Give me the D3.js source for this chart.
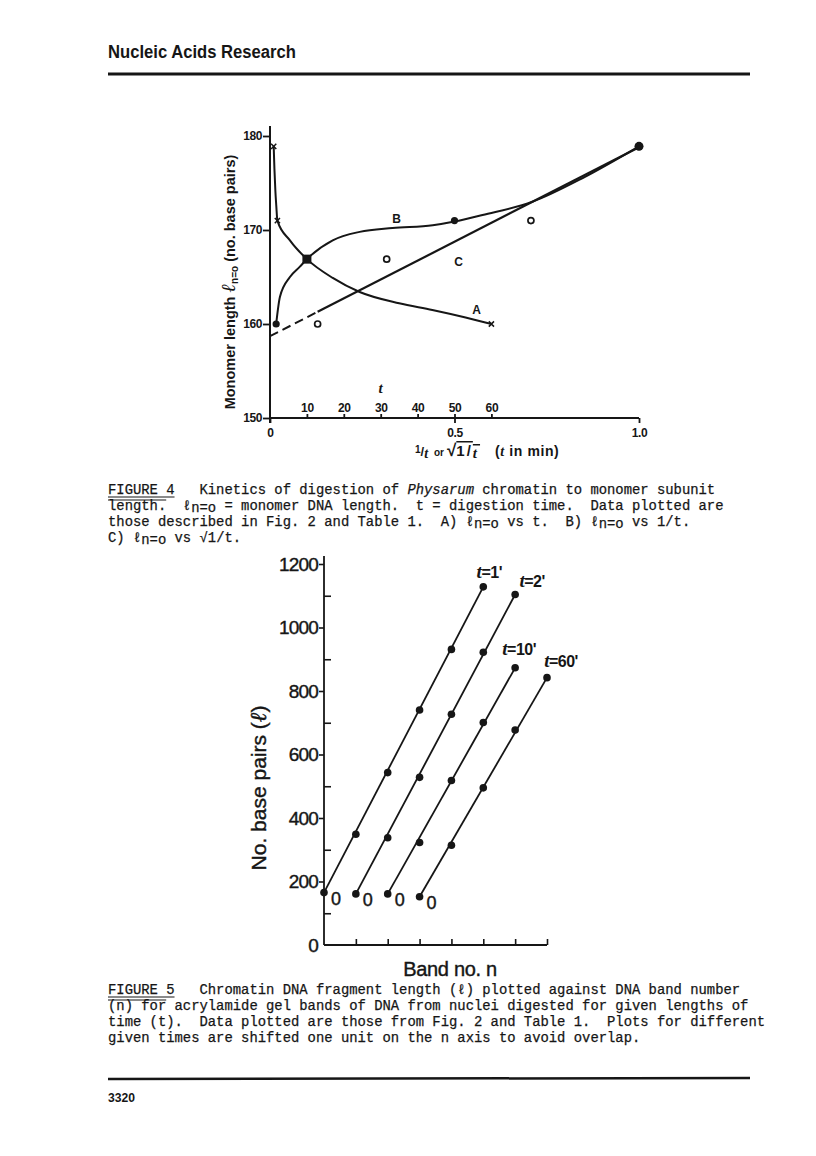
<!DOCTYPE html>
<html>
<head>
<meta charset="utf-8">
<script src="https://cdn.jsdelivr.net/npm/d3@7"></script>
<style>
  body { margin: 0; background: #fff; }
  text { fill: #161616; }
</style>
</head>
<body>
<svg id="page"></svg>
<script>
// ---- Figure 4 data: monomer length l(n=0) against digestion time t (min)
var digestTimes = [1, 2, 10, 60];
var monomerLen = [178.9, 171.0, 166.9, 160.0];

// curve A (l vs t) and curve B (l vs 1/t), as hand drawn in the figure
var traceA_t = [1, 1.2, 1.45, 1.7, 2, 5.4, 10, 17, 24.3, 35, 44, 53, 60];
var traceA_len = [178.9, 176.5, 174.2, 172.6, 171.0, 168.9, 166.9, 164.9, 163.4, 162.2, 161.5, 160.7, 160.0];
var traceB_x = [0.0167, 0.027, 0.054, 0.081, 0.1, 0.17, 0.243, 0.332, 0.441, 0.5, 0.576, 0.711, 0.846, 1.0];
var traceB_len = [160.0, 162.9, 165.0, 166.1, 166.9, 168.9, 169.8, 170.2, 170.5, 170.9, 171.6, 173.0, 175.5, 178.9];

// line C (l vs sqrt(1/t)): value at x = 0 and at x = 1
var fitC_len = [158.7, 178.8];

var f4YTicks = [150, 160, 170, 180];
var f4XTicks = [0, 0.5, 1.0];
var f4TTicks = [10, 20, 30, 40, 50, 60];

// ---- Figure 5 data: fragment length (bp) against band number n
var seriesNames = ["1'", "2'", "10'", "60'"];
var nShift = [0, 1, 2, 3];
var bpT1 = [165, 349, 543, 740, 931, 1128];
var bpT2 = [161, 338, 528, 727, 922, 1104];
var bpT10 = [161, 323, 518, 701, 873];
var bpT60 = [152, 314, 495, 677, 842];
var f5YTicks = [0, 200, 400, 600, 800, 1000, 1200];
var f5MinorTicks = [100, 300, 500, 700, 900, 1100];
var f5XTicks = [1, 2, 3, 4, 5, 6, 7];

var ink = "#161616";
var sans = "'Liberation Sans', Arial, Helvetica, sans-serif";
var mono = "'Liberation Mono', 'Courier New', monospace";
var serif = "'Liberation Serif', 'Times New Roman', serif";

var svg = d3.select("#page")
  .attr("width", 816)
  .attr("height", 1156);

// page header / footer
svg.append("text")
  .attr("x", 108).attr("y", 58)
  .attr("font-family", sans).attr("font-weight", "bold").attr("font-size", 18)
  .attr("textLength", 188).attr("lengthAdjust", "spacingAndGlyphs")
  .text("Nucleic Acids Research");
svg.append("line")
  .attr("x1", 108).attr("x2", 750).attr("y1", 74).attr("y2", 74)
  .attr("stroke", ink).attr("stroke-width", 3);
svg.append("line")
  .attr("x1", 108).attr("x2", 750).attr("y1", 1079).attr("y2", 1078)
  .attr("stroke", ink).attr("stroke-width", 2.5);
svg.append("text")
  .attr("x", 108).attr("y", 1102)
  .attr("font-family", sans).attr("font-weight", "bold").attr("font-size", 13)
  .attr("textLength", 27).attr("lengthAdjust", "spacingAndGlyphs")
  .text("3320");

// =================== FIGURE 4 ===================
var x4 = d3.scaleLinear().domain([0, 1]).range([270, 639]);
var t4 = d3.scaleLinear().domain([0, 100]).range([270, 639]);
var y4 = d3.scaleLinear().domain([150, 180]).range([418, 136]);

var fig4 = svg.append("g");

// axis lines
fig4.append("line")
  .attr("x1", x4(0)).attr("x2", x4(0)).attr("y1", 126).attr("y2", y4(150) + 5)
  .attr("stroke", ink).attr("stroke-width", 2);
fig4.append("line")
  .attr("x1", x4(0)).attr("x2", x4(1)).attr("y1", y4(150)).attr("y2", y4(150))
  .attr("stroke", ink).attr("stroke-width", 2);

var yAxis4 = fig4.append("g")
  .attr("transform", "translate(" + x4(0) + ",0)")
  .call(d3.axisLeft(y4).tickValues(f4YTicks).tickSize(7).tickPadding(1).tickFormat(d3.format("d")));
var xAxis4 = fig4.append("g")
  .attr("transform", "translate(0," + y4(150) + ")")
  .call(d3.axisBottom(x4).tickValues(f4XTicks).tickSize(5).tickPadding(5)
    .tickFormat(function (d) { return d === 0 ? "0" : d.toFixed(1); }));
var tAxis4 = fig4.append("g")
  .attr("transform", "translate(0," + y4(150) + ")")
  .call(d3.axisTop(t4).tickValues(f4TTicks).tickSize(4).tickPadding(2).tickFormat(d3.format("d")));

[yAxis4, xAxis4, tAxis4].forEach(function (a) {
  a.select(".domain").remove();
  a.selectAll("line").attr("stroke", ink).attr("stroke-width", 1.8);
  a.selectAll("text").attr("font-family", sans).attr("font-weight", "bold")
    .attr("font-size", 12).attr("fill", ink).attr("letter-spacing", -0.4);
});

// t label above the t scale
fig4.append("text")
  .attr("x", t4(30)).attr("y", 393)
  .attr("text-anchor", "middle")
  .attr("font-family", serif).attr("font-style", "italic").attr("font-weight", "bold")
  .attr("font-size", 15)
  .text("t");

// axis titles
var ylab4 = fig4.append("text")
  .attr("transform", "translate(235,282) rotate(-90)")
  .attr("text-anchor", "middle")
  .attr("font-family", sans).attr("font-weight", "bold").attr("font-size", 14.5);
ylab4.append("tspan").text("Monomer length  ");
ylab4.append("tspan").attr("font-family", serif).attr("font-style", "italic").attr("font-size", 20).text("\u2113");
ylab4.append("tspan").attr("font-size", 10).attr("dy", 3).text("n=o");
ylab4.append("tspan").attr("dy", -3).text(" (no. base pairs)");

var xlabY = 456;
var xl1 = fig4.append("text").attr("x", 415).attr("y", xlabY)
  .attr("font-family", sans).attr("font-weight", "bold").attr("font-size", 13);
xl1.append("tspan").attr("font-size", 10).attr("dy", -3).text("1");
xl1.append("tspan").attr("dy", 3).text("/");
xl1.append("tspan").attr("font-family", serif).attr("font-style", "italic").attr("font-size", 14).attr("dy", 2).text("t");
fig4.append("text").attr("x", 434).attr("y", xlabY)
  .attr("font-family", sans).attr("font-weight", "bold").attr("font-size", 10)
  .text("or");
var xl2 = fig4.append("text").attr("x", 447).attr("y", xlabY)
  .attr("font-family", sans).attr("font-weight", "bold").attr("font-size", 15);
xl2.append("tspan").attr("font-size", 17).text("\u221A");
xl2.append("tspan").style("text-decoration", "overline").attr("letter-spacing", 2).text("1/");
xl2.append("tspan").style("text-decoration", "overline")
  .attr("font-family", serif).attr("font-style", "italic").attr("dy", 2).text("t\u2009");
var xl3 = fig4.append("text").attr("x", 495).attr("y", xlabY)
  .attr("font-family", sans).attr("font-weight", "bold").attr("font-size", 14)
  .attr("letter-spacing", 0.6);
xl3.append("tspan").text("(");
xl3.append("tspan").attr("font-family", serif).attr("font-style", "italic").text("t");
xl3.append("tspan").text(" in min)");

// curve A : l vs t
var lineA = d3.line()
  .x(function (d, i) { return t4(traceA_t[i]); })
  .y(function (d) { return y4(d); })
  .curve(d3.curveMonotoneX);
fig4.append("path")
  .attr("d", lineA(traceA_len))
  .attr("fill", "none").attr("stroke", ink).attr("stroke-width", 2);

// curve B : l vs 1/t
var lineB = d3.line()
  .x(function (d, i) { return x4(traceB_x[i]); })
  .y(function (d) { return y4(d); })
  .curve(d3.curveMonotoneX);
fig4.append("path")
  .attr("d", lineB(traceB_len))
  .attr("fill", "none").attr("stroke", ink).attr("stroke-width", 2);

// line C : l vs sqrt(1/t), dashed below the last point
var lenC = d3.scaleLinear().domain([0, 1]).range(fitC_len);
var cFirst = Math.sqrt(1 / d3.max(digestTimes));
fig4.append("line")
  .attr("x1", x4(0)).attr("y1", y4(lenC(0)))
  .attr("x2", x4(cFirst)).attr("y2", y4(lenC(cFirst)))
  .attr("stroke", ink).attr("stroke-width", 2).attr("stroke-dasharray", "9,5");
fig4.append("line")
  .attr("x1", x4(cFirst)).attr("y1", y4(lenC(cFirst)))
  .attr("x2", x4(1)).attr("y2", y4(lenC(1)))
  .attr("stroke", ink).attr("stroke-width", 2.2);

// markers: C open circles, A crosses, B dots, shared A/B point as square
digestTimes.forEach(function (t, i) {
  fig4.append("circle")
    .attr("cx", x4(Math.sqrt(1 / t))).attr("cy", y4(monomerLen[i])).attr("r", 3)
    .attr("fill", "#fff").attr("stroke", ink).attr("stroke-width", 1.7);
});
digestTimes.forEach(function (t, i) {
  var cx = t4(t), cy = y4(monomerLen[i]), s = 2.6;
  fig4.append("path")
    .attr("d", "M" + (cx - s) + "," + (cy - s) + "L" + (cx + s) + "," + (cy + s) +
               "M" + (cx - s) + "," + (cy + s) + "L" + (cx + s) + "," + (cy - s))
    .attr("stroke", ink).attr("stroke-width", 1.5);
});
digestTimes.forEach(function (t, i) {
  fig4.append("circle")
    .attr("cx", x4(1 / t)).attr("cy", y4(monomerLen[i]))
    .attr("r", t === 1 ? 4.5 : 3.6)
    .attr("fill", ink);
});
digestTimes.forEach(function (t, i) {
  if (Math.abs(t / 100 - 1 / t) < 1e-9) {
    fig4.append("rect")
      .attr("x", t4(t) - 4.5).attr("y", y4(monomerLen[i]) - 4.5)
      .attr("width", 9).attr("height", 9).attr("fill", ink);
  }
});

// curve letters
var curveLabels = [
  { name: "A", x: 0.56, len: 161.5 },
  { name: "B", x: 0.343, len: 171.2 },
  { name: "C", x: 0.511, len: 166.6 }
];
fig4.selectAll(".clab")
  .data(curveLabels)
  .enter()
  .append("text")
  .attr("x", function (d) { return x4(d.x); })
  .attr("y", function (d) { return y4(d.len); })
  .attr("dy", "0.36em")
  .attr("text-anchor", "middle")
  .attr("font-family", sans).attr("font-weight", "bold").attr("font-size", 12)
  .text(function (d) { return d.name; });

// =================== captions ===================
function typeLine(x, y, parts) {
  var t = svg.append("text")
    .attr("x", x).attr("y", y)
    .attr("xml:space", "preserve")
    .style("white-space", "pre")
    .attr("font-family", mono).attr("font-size", 13.86)
    .attr("stroke", ink).attr("stroke-width", 0.25);
  var shift = 0;
  parts.forEach(function (p) {
    var s = p.sub ? 2 : 0;
    t.append("tspan")
      .attr("dy", s - shift)
      .attr("font-style", p.it ? "italic" : null)
      .text(p.s);
    shift = s;
  });
}
function rule(x1, x2, y) {
  svg.append("line").attr("x1", x1).attr("x2", x2).attr("y1", y).attr("y2", y)
    .attr("stroke", ink).attr("stroke-width", 1.2);
}
var cw = 8.316;

typeLine(108, 494, [{ s: "FIGURE 4   Kinetics of digestion of " }, { s: "Physarum", it: true },
  { s: " chromatin to monomer subunit" }]);
typeLine(108, 510, [{ s: "length.  \u2113" }, { s: "n=o", sub: true },
  { s: " = monomer DNA length.  t = digestion time.  Data plotted are" }]);
typeLine(108, 526, [{ s: "those described in Fig. 2 and Table 1.  A) \u2113" }, { s: "n=o", sub: true },
  { s: " vs t.  B) \u2113" }, { s: "n=o", sub: true }, { s: " vs 1/t." }]);
typeLine(108, 542, [{ s: "C) \u2113" }, { s: "n=o", sub: true }, { s: " vs \u221A1/t." }]);
rule(108, 108 + 8 * cw, 497);
rule(108, 108 + 7 * cw, 500);

typeLine(108, 994, [{ s: "FIGURE 5   Chromatin DNA fragment length (\u2113) plotted against DNA band number" }]);
typeLine(108, 1010, [{ s: "(n) for acrylamide gel bands of DNA from nuclei digested for given lengths of" }]);
typeLine(108, 1026, [{ s: "time (t).  Data plotted are those from Fig. 2 and Table 1.  Plots for different" }]);
typeLine(108, 1042, [{ s: "given times are shifted one unit on the n axis to avoid overlap." }]);
rule(108, 108 + 8 * cw, 997);
rule(108, 108 + 7 * cw, 1000);

// =================== FIGURE 5 ===================
var x5 = d3.scaleLinear().domain([0, 7]).range([324, 547]);
var y5 = d3.scaleLinear().domain([0, 1200]).range([945, 564]);
var fig5 = svg.append("g");

fig5.append("line")
  .attr("x1", x5(0)).attr("x2", x5(0)).attr("y1", 556).attr("y2", y5(0))
  .attr("stroke", ink).attr("stroke-width", 1.8);
fig5.append("line")
  .attr("x1", x5(0)).attr("x2", x5(7)).attr("y1", y5(0)).attr("y2", y5(0))
  .attr("stroke", ink).attr("stroke-width", 1.8);

var yAxis5 = fig5.append("g")
  .attr("transform", "translate(" + x5(0) + ",0)")
  .call(d3.axisLeft(y5).tickValues(f5YTicks).tickSize(5).tickPadding(1).tickFormat(d3.format("d")));
var yMinor5 = fig5.append("g")
  .attr("transform", "translate(" + x5(0) + ",0)")
  .call(d3.axisRight(y5).tickValues(f5MinorTicks).tickSize(7).tickFormat(""));
var xAxis5 = fig5.append("g")
  .attr("transform", "translate(0," + y5(0) + ")")
  .call(d3.axisTop(x5).tickValues(f5XTicks).tickSize(6).tickFormat(""));
[yAxis5, yMinor5, xAxis5].forEach(function (a) {
  a.select(".domain").remove();
  a.selectAll("line").attr("stroke", ink).attr("stroke-width", 1.6);
});
yAxis5.selectAll("line").filter(function (d) { return d === 0; }).remove();
yAxis5.selectAll("text")
  .attr("font-family", sans).attr("font-size", 19).attr("fill", ink)
  .attr("letter-spacing", -0.8)
  .attr("stroke", ink).attr("stroke-width", 0.4);

var ylab5 = fig5.append("text")
  .attr("transform", "translate(266,788) rotate(-90)")
  .attr("text-anchor", "middle")
  .attr("font-family", sans).attr("font-size", 21)
  .attr("stroke", ink).attr("stroke-width", 0.4);
ylab5.append("tspan").text("No. base pairs (");
ylab5.append("tspan").attr("font-family", serif).attr("font-style", "italic").attr("font-size", 23).text("\u2113");
ylab5.append("tspan").text(")");

fig5.append("text")
  .attr("x", 450).attr("y", 976)
  .attr("text-anchor", "middle")
  .attr("font-family", sans).attr("font-size", 20)
  .attr("letter-spacing", -0.3)
  .attr("stroke", ink).attr("stroke-width", 0.4)
  .text("Band no. n");

var bandSeries = [bpT1, bpT2, bpT10, bpT60];
var labelOffset = [[6, -15], [17, -13], [4, -19], [14, -17]];
var line5 = d3.line()
  .x(function (d) { return x5(d.n); })
  .y(function (d) { return y5(d.bp); });

bandSeries.forEach(function (vals, k) {
  var pts = vals.map(function (v, i) { return { n: i + nShift[k], bp: v }; });
  var ends = [pts[0], pts[pts.length - 1]];

  fig5.append("path")
    .attr("d", line5(ends))
    .attr("fill", "none").attr("stroke", ink).attr("stroke-width", 1.8);

  fig5.selectAll(".dot" + k)
    .data(pts)
    .enter()
    .append("circle")
    .attr("cx", function (d) { return x5(d.n); })
    .attr("cy", function (d) { return y5(d.bp); })
    .attr("r", 3.8)
    .attr("fill", ink);

  // "0" marks the n = 0 band of each series
  fig5.append("text")
    .attr("x", x5(pts[0].n) + 12).attr("y", y5(pts[0].bp) + 12)
    .attr("text-anchor", "middle")
    .attr("font-family", sans).attr("font-size", 18)
    .attr("stroke", ink).attr("stroke-width", 0.4)
    .text("0");

  var last = ends[1];
  var lab = fig5.append("text")
    .attr("x", x5(last.n) + labelOffset[k][0])
    .attr("y", y5(last.bp) + labelOffset[k][1] + 6)
    .attr("text-anchor", "middle")
    .attr("font-family", sans).attr("font-weight", "bold").attr("font-size", 16)
    .attr("letter-spacing", -0.5);
  lab.append("tspan").attr("font-family", serif).attr("font-style", "italic")
    .attr("font-size", 19).text("t");
  lab.append("tspan").text("=" + seriesNames[k]);
});
</script>
</body>
</html>
